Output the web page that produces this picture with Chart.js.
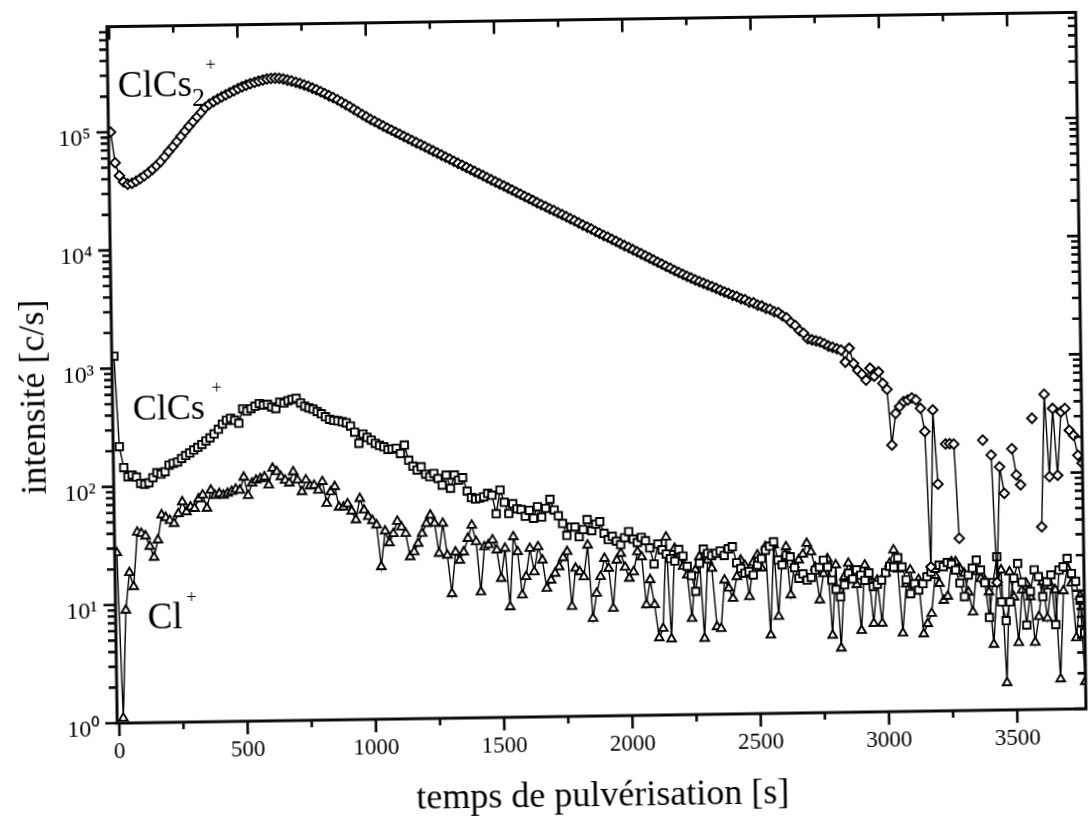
<!DOCTYPE html>
<html lang="fr">
<head>
<meta charset="utf-8">
<title>Intensité ClCs2+, ClCs+ et Cl+ en fonction du temps de pulvérisation</title>
<script src="https://cdn.jsdelivr.net/npm/chart.js@4.4.1/dist/chart.umd.min.js"></script>
<style>
  html, body { margin: 0; padding: 0; background: #fff; overflow: hidden; }
  #sheet { position: relative; width: 1088px; height: 823px; transform: rotate(-0.85deg); transform-origin: 597px 368px; }
  #chart { display: block; }
</style>
</head>
<body>
<div id="sheet"><canvas id="chart" width="1088" height="823"></canvas></div>
<script>
// Sputtering time of each acquisition [s]
const time = [
  0, 16, 32, 48, 64, 81, 97, 113, 129, 145,
  161, 177, 193, 209, 225, 242, 258, 274, 290, 306,
  322, 338, 354, 370, 386, 403, 419, 435, 451, 467,
  483, 499, 515, 531, 547, 564, 580, 596, 612, 628,
  644, 660, 676, 692, 708, 725, 741, 757, 773, 789,
  805, 821, 837, 853, 869, 886, 902, 918, 934, 950,
  966, 982, 998, 1014, 1030, 1047, 1063, 1079, 1095, 1111,
  1127, 1143, 1159, 1175, 1191, 1208, 1224, 1240, 1256, 1272,
  1288, 1304, 1320, 1336, 1352, 1369, 1385, 1401, 1417, 1433,
  1449, 1465, 1481, 1497, 1513, 1530, 1546, 1562, 1578, 1594,
  1610, 1626, 1642, 1658, 1674, 1691, 1707, 1723, 1739, 1755,
  1771, 1787, 1803, 1819, 1835, 1852, 1868, 1884, 1900, 1916,
  1932, 1948, 1964, 1980, 1996, 2013, 2029, 2045, 2061, 2077,
  2093, 2109, 2125, 2141, 2157, 2174, 2190, 2206, 2222, 2238,
  2254, 2270, 2286, 2302, 2318, 2335, 2351, 2367, 2383, 2399,
  2415, 2431, 2447, 2463, 2479, 2496, 2512, 2528, 2544, 2560,
  2576, 2592, 2608, 2624, 2640, 2657, 2673, 2689, 2705, 2721,
  2737, 2753, 2769, 2785, 2801, 2818, 2834, 2850, 2866, 2882,
  2898, 2914, 2930, 2946, 2962, 2979, 2995, 3011, 3027, 3043,
  3059, 3075, 3091, 3107, 3123, 3140, 3156, 3172, 3188, 3204,
  3220, 3236, 3252, 3268, 3284, 3301, 3317, 3333, 3349, 3365,
  3381, 3397, 3413, 3429, 3445, 3462, 3478, 3494, 3510, 3526,
  3542, 3558, 3574, 3590, 3606, 3623, 3639, 3655, 3671, 3687,
  3703, 3719, 3735, 3751, 3767
];

// ClCs2+ intensity [c/s] (null = no count recorded)
const clcs2 = [
  100000, 55000, 42700, 37800, 36100, 36700, 38200, 40100, 42300, 44900,
  47900, 51300, 55600, 61000, 67300, 74100, 81700, 90200, 99500, 109600,
  120000, 131000, 143000, 157000, 167000, 176000, 184000, 192000, 200000, 208000,
  216000, 225000, 233000, 240000, 247000, 253000, 259000, 264000, 269000, 272000,
  273000, 272000, 268000, 262000, 257000, 250000, 244000, 237000, 230000, 222000,
  215000, 207000, 199000, 191000, 184000, 176000, 168000, 160000, 153000, 145000,
  138000, 131000, 125000, 119000, 114000, 109000, 104000, 99800, 95700, 91800,
  88100, 84500, 81100, 77800, 74600, 71600, 68700, 65900, 63200, 60700,
  58200, 55800, 53600, 51400, 49300, 47300, 45400, 43600, 41800, 40100,
  38500, 36900, 35400, 34000, 32600, 31300, 30000, 28800, 27600, 26500,
  25400, 24400, 23400, 22400, 21500, 20700, 19800, 19100, 18300, 17600,
  16900, 16200, 15600, 14900, 14300, 13700, 13200, 12600, 12100, 11600,
  11200, 10700, 10300, 9860, 9460, 9080, 8710, 8360, 8020, 7690,
  7380, 7080, 6790, 6520, 6250, 6000, 5750, 5530, 5320, 5120,
  4930, 4750, 4590, 4440, 4290, 4140, 4000, 3860, 3730, 3610,
  3480, 3390, 3250, 3180, 3040, 2990, 2850, 2800, 2670, 2620,
  2500, 2450, 2300, 2210, 2020, 1900, 1720, 1630, 1460, 1430,
  1400, 1370, 1320, 1260, 1230, 1190, 1160, 918, 1200, 890,
  780, 720, 642, 809, 692, 752, 600, 533, 180, 333,
  380, 418, 430, 448, 430, 365, 232, 16.6, 352, 83,
  null, 181, 182, 180, 28.7, null, null, null, null, null,
  193, null, 144, 12, 114, 68, null, 162, 97, 80,
  null, null, 291, null, 35, 463, 93, 350, 95, 327,
  349, 228, 206, 140, 120
];

// ClCs+ intensity [c/s]
const clcs = [
  1270, 218, 145, 121, 125, 120, 106, 104, 107, 118,
  130, 126, 132, 150, 155, 159, 170, 180, 189, 200,
  210, 222, 238, 252, 272, 297, 328, 353, 367, 352,
  332, 440, 420, 440, 460, 485, 470, 477, 452, 437,
  497, 486, 508, 521, 531, 485, 455, 440, 428, 408,
  390, 368, 350, 342, 339, 332, 325, 305, 270, 217,
  260, 243, 230, 216, 207, 201, 191, 192, 195, 176,
  207, 154, 137, 127, 135, 117, 111, 118, 107, 94,
  114, 88, 114, 103, 108, 83, 73, 71, 72, 74,
  79, 76, 53, 84, 66, 53, 64, 58, 57, 50,
  56, 48, 60, 49, 58, 69, 56, 50, 43, 34,
  40, 40, 33, 38, 46, 37, 42, 44, 35, 31,
  33, 30, 28, 32, 36, 31, 29, 32, 30, 26,
  19, 28, 25, 23, 21, 20, 25, 22, 18, 15,
  11, 19, 25, 23, 22, 23, 24, 22, 25, 26,
  19, 17, 15.5, 16, 14.9, 18, 20.5, 24, 26, 28.3,
  19.8, 18, 21.7, 21, 17, 13.8, 15, 13.3, 14, 16.1,
  17, 19.5, 17, 13.2, 11, 9.5, 12, 15, 13.4, 16,
  14.4, 13, 15, 11.5, 12, 13, 15, 17, 16.7, 20,
  16.7, 13, 9.9, 12, 10.6, 12, 13.7, 15, 16.1, 17.1,
  16.6, 18, 17.4, 15.5, 12, 9.2, 14, 16, 18.7, 15.4,
  12, 6.1, 12, 19.8, 8.2, 5.7, 8.2, 13, 17.3, 12,
  5.2, 10, 15.2, 13.3, 9.0, 12, 13.7, 5.2, 15, 16,
  18.8, 14, 12, 8.3, 4.4
];

// Cl+ intensity [c/s]
const cl = [
  27.6, 1.1, 9.0, 18.7, 14.2, 41, 40, 38, 31, 25,
  35, 57, 54, 51, 48, 58, 73, 60, 66, 64,
  77, 83, 64, 91, 82, 85, 82, 85, 88, 92,
  90, 116, 81, 103, 109, 112, 116, 99, 137, 128,
  116, 108, 102, 127, 108, 86, 108, 96, 97, 88,
  104, 68, 85, 94, 63, 63, 67, 58, 49, 74,
  59, 52, 48, 44, 19.5, 39, 31, 37, 47, 42,
  37, 23.5, 25.8, 30.4, 36.8, 44.6, 52.5, 44.7, 24.9, 44.6,
  23.9, 11.3, 25.4, 21.6, 25.4, 33, 42.6, 30.9, 11.6, 27.9,
  29, 31.8, 26.1, 15, 26.9, 8.6, 33.6, 25.1, 10.8, 15.4,
  26.7, 16.9, 27.5, 21.2, 12.2, 14.3, 16.3, 18.5, 22, 24.8,
  8.5, 17.9, 16.7, 15.1, 28, 6.7, 10.9, 15.1, 21.5, 17.7,
  8.1, 20.7, 23.6, 18, 14.5, 16.4, 24.2, 21.9, 8.6, 14,
  8.6, 4.5, 5.4, 32, 4.4, 25.6, 22.5, 18, 15.2, 6.5,
  16.7, 21.6, 4.4, 20.2, 17.2, 5.5, 5.3, 13.6, 11.6, 9.5,
  14.5, 20, 18, 9.8, 19, 22, 17, 25.8, 4.6, 26.6,
  6.6, 20, 25.6, 10, 18, 19.7, 22, 27.2, 23, 17,
  9, 15, 20, 4.5, 17.7, 3.5, 14, 18.2, 16, 12,
  4.9, 17.5, 14, 5.6, 13, 5.6, 15, 18, 23.3, 16,
  4.6, 12, 15.7, 11, 13, 4.5, 5.5, 6.7, 14, 12,
  8.6, 9.3, 18.2, 18.2, 16, 14.5, 10, 6.8, 14.9, 13,
  12.6, 10, 3.6, 12, 15.3, 1.7, 14.7, 9, 3.7, 10.3,
  11.7, 9, 3.7, 6.1, 12, 5.9, 11, 10.2, 1.8, 10,
  15.5, 11.6, 4.0, 9, 1.7
];

// Axis ticks
const xTickValues = [0, 500, 1000, 1500, 2000, 2500, 3000, 3500];
const xMinorValues = [250, 750, 1250, 1750, 2250, 2750, 3250];
const yTickValues = [1, 10, 100, 1000, 10000, 100000];

const FONT = '"Liberation Serif", "Times New Roman", serif';
const SUP = ['\u2070', '\u00B9', '\u00B2', '\u00B3', '\u2074', '\u2075', '\u2076'];

const X_MIN = -8.2, X_MAX = 3768, Y_MIN = 1, Y_MAX = 780000;

function points(values) {
  return time.map((t, i) => ({ x: t, y: values[i] }));
}

// Ion names written inside the plot, anchored in data coordinates
const ionLabels = [
  { t: 31, v: 199000, parts: [
    { s: 'ClCs', size: 37, dy: 0, gap: 0 },
    { s: '2', size: 26, dy: 10, gap: 0 },
    { s: '+', size: 18, dy: -25, gap: 1 } ] },
  { t: 71, v: 365, parts: [
    { s: 'ClCs', size: 36, dy: 0, gap: 0 },
    { s: '+', size: 18, dy: -25, gap: 7 } ] },
  { t: 117, v: 6.27, parts: [
    { s: 'Cl', size: 37, dy: 0, gap: 0 },
    { s: '+', size: 18, dy: -25, gap: 4 } ] }
];

// Frame with outward ticks on left/bottom, inward ticks on top/right,
// the vertical axis title and the ion names
const framePlugin = {
  id: 'frame',
  afterDatasetsDraw(chart) {
    const { ctx, chartArea: a, scales: { x, y } } = chart;
    ctx.save();
    ctx.strokeStyle = '#0a0a0a';
    ctx.lineCap = 'butt';
    ctx.lineWidth = 2.6;
    ctx.beginPath();
    const xt = (v, len) => {
      const p = x.getPixelForValue(v);
      ctx.moveTo(p, a.bottom); ctx.lineTo(p, a.bottom + len);
      ctx.moveTo(p, a.top); ctx.lineTo(p, a.top + len);
    };
    xTickValues.forEach(v => xt(v, 13));
    xMinorValues.forEach(v => xt(v, 7));
    const yt = (v, len) => {
      const p = y.getPixelForValue(v);
      ctx.moveTo(a.left, p); ctx.lineTo(a.left - len, p);
      ctx.moveTo(a.right, p); ctx.lineTo(a.right - len, p);
    };
    yTickValues.forEach(v => yt(v, 12));
    yTickValues.forEach(d => {
      for (let m = 2; m <= 9; m++) {
        if (d * m < Y_MAX) yt(d * m, 8);
      }
    });
    ctx.stroke();

    ctx.lineWidth = 3;
    ctx.strokeRect(a.left, a.top, a.right - a.left, a.bottom - a.top);

    // vertical axis title
    ctx.fillStyle = '#000';
    ctx.save();
    ctx.translate(a.left - 77, (a.top + a.bottom) / 2 + 21);
    ctx.rotate(-Math.PI / 2);
    ctx.font = '36px ' + FONT;
    ctx.textAlign = 'center';
    ctx.textBaseline = 'middle';
    ctx.fillText('intensité [c/s]', 0, 0);
    ctx.restore();

    // ion names
    ctx.textAlign = 'left';
    ctx.textBaseline = 'alphabetic';
    ionLabels.forEach(lab => {
      let px = x.getPixelForValue(lab.t);
      const py = y.getPixelForValue(lab.v);
      lab.parts.forEach(p => {
        ctx.font = p.size + 'px ' + FONT;
        px += p.gap;
        ctx.fillText(p.s, px, py + p.dy);
        px += ctx.measureText(p.s).width;
      });
    });
    ctx.restore();
  }
};

const common = {
  borderColor: '#000',
  borderWidth: 1.4,
  pointBackgroundColor: '#fff',
  pointBorderColor: '#000',
  pointBorderWidth: 1.9,
  pointHoverRadius: 0,
  tension: 0,
  spanGaps: false,
  fill: false
};

// keep the plot area exactly where the frame belongs
function fixScale(size) {
  return s => {
    if (s.isHorizontal()) s.height = size; else s.width = size;
    s.paddingLeft = 0; s.paddingRight = 0; s.paddingTop = 0; s.paddingBottom = 0;
  };
}

function draw() {
  new Chart(document.getElementById('chart'), {
    type: 'line',
    data: {
      datasets: [
        Object.assign({ label: 'ClCs2+', data: points(clcs2), pointStyle: 'rectRot', pointRadius: 4.8 }, common),
        Object.assign({ label: 'ClCs+', data: points(clcs), pointStyle: 'rect', pointRadius: 5.2 }, common),
        Object.assign({ label: 'Cl+', data: points(cl), pointStyle: 'triangle', pointRadius: 5.0 }, common)
      ]
    },
    options: {
      responsive: false,
      animation: false,
      devicePixelRatio: 1,
      events: [],
      layout: { padding: { top: 19.5, right: 5.5, left: 0, bottom: 0 } },
      plugins: { legend: { display: false }, tooltip: { enabled: false } },
      scales: {
        x: {
          type: 'linear',
          min: X_MIN,
          max: X_MAX,
          afterBuildTicks: s => { s.ticks = xTickValues.map(v => ({ value: v })); },
          afterFit: fixScale(107),
          grid: { display: false, drawTicks: false },
          border: { display: false },
          ticks: {
            color: '#000',
            font: { family: FONT, size: 23 },
            padding: 15.5,
            maxRotation: 0,
            autoSkip: false,
            callback: v => String(v)
          },
          title: {
            display: true,
            text: 'temps de pulvérisation [s]',
            color: '#000',
            font: { family: FONT, size: 36 },
            padding: { top: 0, bottom: 5 }
          }
        },
        y: {
          type: 'logarithmic',
          min: Y_MIN,
          max: Y_MAX,
          afterBuildTicks: s => { s.ticks = yTickValues.map(v => ({ value: v })); },
          afterFit: fixScale(112),
          grid: { display: false, drawTicks: false },
          border: { display: false },
          ticks: {
            color: '#000',
            font: { family: FONT, size: 24 },
            padding: 18,
            labelOffset: 7,
            autoSkip: false,
            callback: v => '10' + SUP[Math.round(Math.log10(v))]
          }
        }
      }
    },
    plugins: [framePlugin]
  });
}

if (document.fonts && document.fonts.load) {
  Promise.all([
    document.fonts.load('23px "Liberation Serif"'),
    document.fonts.load('36px "Liberation Serif"')
  ]).then(draw, draw);
} else {
  draw();
}
</script>
</body>
</html>
